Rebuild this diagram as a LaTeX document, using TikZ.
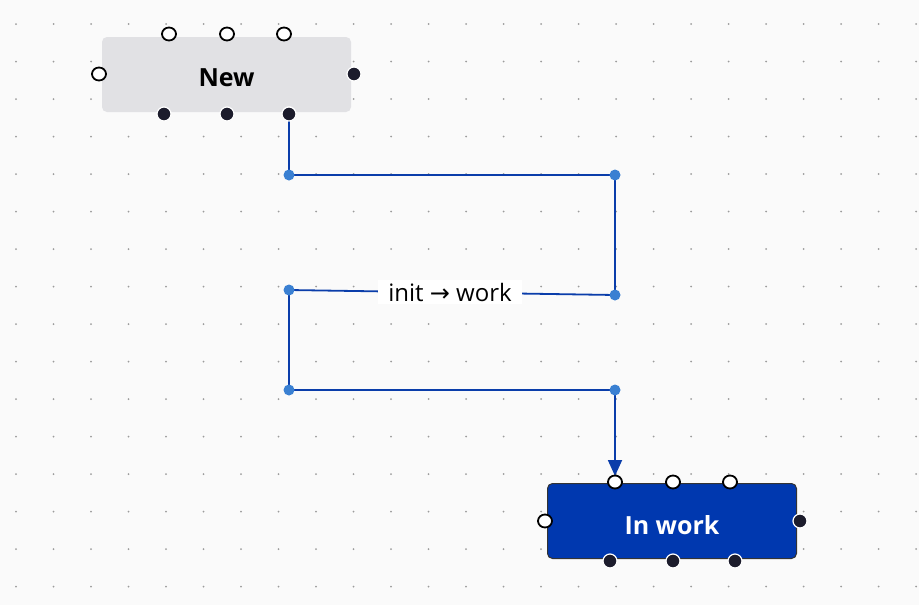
\documentclass[tikz,border=0pt]{standalone}
\usepackage{fontspec}
\setmainfont{Open Sans}
\newfontfamily\arrowfont{DejaVu Sans}
\usetikzlibrary{arrows.meta,shapes.geometric}
\definecolor{bg}{HTML}{FAFAFA}
\definecolor{griddot}{HTML}{9C9C9C}
\definecolor{newfill}{HTML}{E1E1E4}
\definecolor{workfill}{HTML}{0038AF}
\definecolor{edge}{HTML}{0A3DAA}
\definecolor{bend}{HTML}{3A80D2}
\definecolor{handle}{HTML}{1C1C2C}
\tikzset{
  x=1pt, y=-1pt,
  statebox/.style={rounded corners=5pt, minimum width=249pt, minimum height=75pt, inner sep=0pt},
  boxtext/.style={font=\fontsize{25}{25}\selectfont\bfseries},
  openh/.style={ellipse, draw=black, line width=1.8pt, fill=white, minimum width=14pt, minimum height=13pt, inner sep=0pt},
  fillh/.style={circle, draw=white, line width=1.2pt, fill=handle, minimum size=14pt, inner sep=0pt},
  bendpt/.style={circle, fill=bend, minimum size=11pt, inner sep=0pt},
  conn/.style={draw=edge, line width=1.8pt},
}
\begin{document}
\begin{tikzpicture}
\useasboundingbox[fill=bg] (0,0) rectangle (919,605);
\foreach \i in {0,...,24} {
  \foreach \j in {0,...,15} {
    \fill[griddot] (16+37.5*\i, 24+37.5*\j) circle (1pt);
  }
}
% nodes
\node[statebox, fill=newfill] (new) at (226.5,74.5) {};
\node[boxtext] (newtxt) at (226.5,78) {New};
\node[statebox, fill=workfill, draw=black!80, line width=1pt] (work) at (672,521) {};
\node[boxtext, text=white] (worktxt) at (672,525) {In work};

% handles New
\node[openh] (n1) at (169,34) {};
\node[openh] (n2) at (227,34) {};
\node[openh] (n3) at (284,34) {};
\node[openh] (n4) at (99,74) {};
\node[fillh] (n5) at (354,74) {};
\node[fillh] (n6) at (164,114) {};
\node[fillh] (n7) at (227,114) {};
\node[fillh] (n8) at (289,114) {};
% handles In work
\node[openh] (w2) at (673,482) {};
\node[openh] (w3) at (730,482) {};
\node[openh] (w4) at (545,521) {};
\node[fillh] (w5) at (800,521) {};
\node[fillh] (w6) at (610,561) {};
\node[fillh] (w7) at (673,561) {};
\node[fillh] (w8) at (735,561) {};

% bend points
\coordinate (b1) at (289,175);
\coordinate (b2) at (615,175);
\coordinate (b3) at (615,295);
\coordinate (b4) at (289,290);
\coordinate (b5) at (289,390);
\coordinate (b6) at (615,390);
\coordinate (wtop) at (615,482);

\draw[conn] (n8.center) -- (b1) -- (b2) -- (b3) -- (b4) -- (b5) -- (b6);
\draw[conn, -{Triangle[length=16pt, width=14pt]}, shorten >=6pt] (b6) -- (wtop);
\node[fill=white, inner xsep=10pt, inner ysep=3pt, font=\fontsize{24}{24}\selectfont] (lbl) at (450,292) {init {\arrowfont →} work};

\node[fillh] at (n8) {};
\node[openh] (w1) at (wtop) {};
\foreach \p in {b1,b2,b3,b4,b5,b6} { \node[bendpt] at (\p) {}; }
\end{tikzpicture}
\end{document}
